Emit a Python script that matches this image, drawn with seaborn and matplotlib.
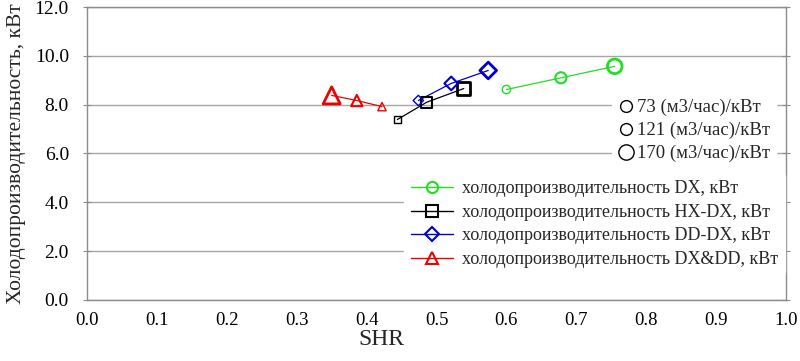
import pandas as pd
import numpy as np
import matplotlib
matplotlib.use('Agg')
import matplotlib.pyplot as plt
import seaborn as sns
from matplotlib.lines import Line2D

# Data
flow = [73, 121, 170]  # (м3/час)/кВт

shr_dx = [0.600, 0.678, 0.755]
q_dx = [8.62, 9.10, 9.57]

shr_hx = [0.444, 0.486, 0.539]
q_hx = [7.39, 8.10, 8.66]

shr_dd = [0.474, 0.521, 0.574]
q_dd = [8.17, 8.87, 9.40]

shr_dxdd = [0.422, 0.386, 0.350]
q_dxdd = [7.92, 8.17, 8.38]

series_names = [
    'холодопроизводительность DX, кВт',
    'холодопроизводительность HX-DX, кВт',
    'холодопроизводительность DD-DX, кВт',
    'холодопроизводительность DX&DD, кВт',
]
flow_labels = ['73 (м3/час)/кВт', '121 (м3/час)/кВт', '170 (м3/час)/кВт']

rows = []
for name, xs, ys in zip(series_names,
                        [shr_dx, shr_hx, shr_dd, shr_dxdd],
                        [q_dx, q_hx, q_dd, q_dxdd]):
    for f, x, y in zip(flow, xs, ys):
        rows.append({'series': name, 'flow': f, 'SHR': x, 'Q': y})
df = pd.DataFrame(rows)

colors = ['#22dd22', '#000000', '#0000cc', '#ee0000']
markers = ['o', 's', 'D', '^']
marker_sizes = [
    {73: 36, 121: 64, 170: 110},
    {73: 25, 121: 63, 170: 90},
    {73: 28, 121: 48, 170: 72},
    {73: 36, 121: 66, 170: 150},
]

sns.set_theme(style='white')
plt.rcParams['font.family'] = ['Liberation Serif', 'DejaVu Serif']

fig = plt.figure(figsize=(8, 3.61), dpi=100)
ax = fig.add_axes([0.10875, 0.169, 0.87375, 0.8116])

for name, c, m, sz in zip(series_names, colors, markers, marker_sizes):
    sub = df[df['series'] == name]
    sns.lineplot(data=sub, x='SHR', y='Q', color=c, linewidth=0.9, ax=ax,
                 sort=False, legend=False)
    sns.scatterplot(data=sub, x='SHR', y='Q', size='flow', sizes=sz,
                    marker=m, color=c, facecolor='none', edgecolor=c,
                    linewidth=1.5, ax=ax, legend=False, zorder=3)
    ax.collections[-1].set_linewidths([1.0, 1.5, 2.0])

ax.set_xlim(0, 1.0)
ax.set_ylim(0, 12)
ax.set_xticks(np.arange(0, 1.01, 0.1))
ax.set_yticks(np.arange(0, 12.1, 2))
ax.xaxis.set_major_formatter(matplotlib.ticker.FormatStrFormatter('%.1f'))
ax.yaxis.set_major_formatter(matplotlib.ticker.FormatStrFormatter('%.1f'))
ax.yaxis.grid(True, color='#a6a6a6', linewidth=1.0)
ax.set_axisbelow(True)
for s in ax.spines.values():
    s.set_color('#8c8c8c')
    s.set_linewidth(1.0)
ax.tick_params(axis='both', which='major', labelsize=14, colors='#8c8c8c',
               labelcolor='black', direction='inout', length=6, width=0.8)
ax.tick_params(axis='x', labelsize=13.5, pad=6)
ax.tick_params(axis='y', right=True, left=True, labelright=False, pad=10)

ax.set_xlabel('SHR', fontsize=17)
ax.xaxis.set_label_coords(0.421, -0.10)
ax.set_ylabel('Холодопроизводительность, кВт', fontsize=15.5, labelpad=6)

# size legend
size_handles = [
    Line2D([], [], linestyle='none', marker='o', markersize=ms,
           markerfacecolor='none', markeredgecolor='black', markeredgewidth=1.0)
    for ms in [8.5, 8.5, 11]
]
leg1 = ax.legend(size_handles, flow_labels, loc='upper right',
                 bbox_to_anchor=(0.985, 0.705), fontsize=13.5, frameon=True,
                 facecolor='white', edgecolor='white', framealpha=1,
                 handlelength=0.8, handletextpad=0.2, labelspacing=0.3,
                 borderpad=0.3, borderaxespad=0)
ax.add_artist(leg1)

series_handles = [
    Line2D([], [], color=c, linewidth=1.0, marker=m, markersize=ms,
           markerfacecolor='none', markeredgecolor=c, markeredgewidth=1.5)
    for c, m, ms in zip(colors, markers, [8, 8, 7.5, 9])
]
ax.legend(series_handles, series_names, loc='lower right',
          bbox_to_anchor=(0.999, 0.085), fontsize=13, frameon=True,
          facecolor='white', edgecolor='white', framealpha=1,
          handlelength=2.3, handletextpad=0.5, labelspacing=0.36,
          borderpad=0.4, borderaxespad=0)

fig.savefig('out.png', dpi=100, facecolor='white')
